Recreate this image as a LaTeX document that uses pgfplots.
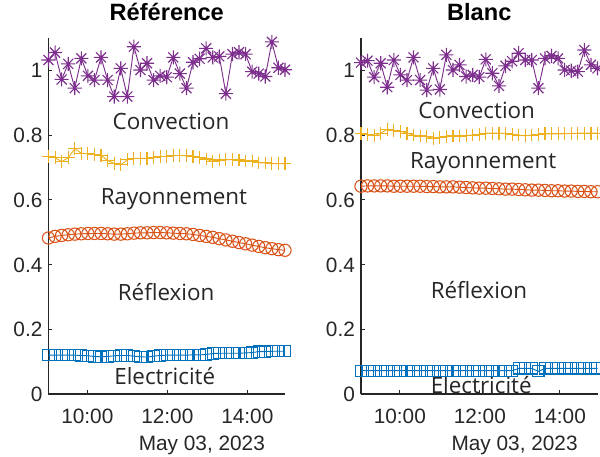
\documentclass[border=0pt]{standalone}
\usepackage{pgfplots}
\usepackage{pgfplotstable}
\pgfplotsset{compat=1.18}
\usepackage{fontspec}
\setmainfont{Liberation Sans}
\newfontfamily\annfont{Open Sans}

\definecolor{mblue}{rgb}{0,0.447,0.741}
\definecolor{morange}{rgb}{0.850,0.325,0.098}
\definecolor{myellow}{rgb}{0.929,0.694,0.125}
\definecolor{mpurple}{rgb}{0.494,0.184,0.556}
\definecolor{mgray}{rgb}{0.15,0.15,0.15}

\pgfdeclareplotmark{ast8}{%
 \pgfpathmoveto{\pgfqpoint{-\pgfplotmarksize}{0pt}}\pgfpathlineto{\pgfqpoint{\pgfplotmarksize}{0pt}}%
 \pgfpathmoveto{\pgfqpoint{0pt}{-\pgfplotmarksize}}\pgfpathlineto{\pgfqpoint{0pt}{\pgfplotmarksize}}%
 \pgfpathmoveto{\pgfqpoint{-.7071\pgfplotmarksize}{-.7071\pgfplotmarksize}}\pgfpathlineto{\pgfqpoint{.7071\pgfplotmarksize}{.7071\pgfplotmarksize}}%
 \pgfpathmoveto{\pgfqpoint{-.7071\pgfplotmarksize}{.7071\pgfplotmarksize}}\pgfpathlineto{\pgfqpoint{.7071\pgfplotmarksize}{-.7071\pgfplotmarksize}}%
 \pgfusepathqstroke}

% idx conv ray ref ele
\pgfplotstableread{
idx conv ray ref ele
0 1.032 0.735 0.482 0.120
1 1.055 0.730 0.487 0.120
2 0.972 0.718 0.490 0.120
3 1.020 0.730 0.492 0.120
4 0.945 0.758 0.494 0.120
5 1.037 0.744 0.495 0.119
6 0.983 0.742 0.496 0.118
7 0.970 0.740 0.496 0.116
8 1.040 0.737 0.496 0.115
9 0.970 0.722 0.495 0.116
10 0.919 0.712 0.494 0.118
11 1.006 0.708 0.494 0.119
12 0.919 0.724 0.495 0.119
13 1.073 0.728 0.497 0.117
14 1.001 0.728 0.498 0.115
15 1.022 0.728 0.498 0.114
16 0.970 0.730 0.499 0.117
17 0.983 0.733 0.499 0.119
18 0.979 0.735 0.498 0.120
19 1.040 0.737 0.497 0.120
20 0.990 0.737 0.496 0.120
21 0.945 0.736 0.495 0.120
22 1.025 0.734 0.493 0.121
23 1.036 0.731 0.490 0.121
24 1.068 0.726 0.487 0.122
25 1.040 0.718 0.484 0.125
26 1.043 0.723 0.480 0.126
27 0.928 0.724 0.476 0.126
28 1.050 0.724 0.472 0.126
29 1.056 0.723 0.468 0.126
30 1.050 0.720 0.464 0.127
31 0.996 0.720 0.460 0.128
32 0.990 0.714 0.456 0.131
33 0.981 0.714 0.452 0.131
34 1.088 0.712 0.449 0.132
35 1.008 0.712 0.446 0.132
36 1.002 0.712 0.444 0.132
}\leftdata

\pgfplotstableread{
idx conv ray ref ele
0 1.024 0.806 0.642 0.072
1 1.030 0.802 0.643 0.072
2 0.979 0.798 0.643 0.072
3 1.022 0.806 0.643 0.072
4 0.948 0.818 0.643 0.072
5 1.032 0.815 0.642 0.072
6 0.986 0.812 0.642 0.072
7 0.970 0.806 0.642 0.072
8 1.040 0.800 0.642 0.072
9 0.970 0.797 0.642 0.072
10 0.939 0.795 0.641 0.072
11 1.006 0.790 0.641 0.072
12 0.941 0.793 0.640 0.072
13 1.048 0.795 0.640 0.072
14 1.001 0.797 0.640 0.072
15 1.017 0.797 0.639 0.072
16 0.981 0.799 0.638 0.072
17 0.986 0.800 0.637 0.072
18 0.979 0.803 0.636 0.072
19 1.034 0.806 0.636 0.072
20 0.991 0.806 0.635 0.072
21 0.952 0.806 0.634 0.072
22 1.014 0.805 0.633 0.072
23 1.028 0.803 0.633 0.072
24 1.053 0.800 0.632 0.079
25 1.032 0.798 0.631 0.079
26 1.032 0.800 0.630 0.079
27 0.945 0.802 0.630 0.070
28 1.037 0.804 0.629 0.079
29 1.045 0.804 0.628 0.079
30 1.037 0.804 0.628 0.079
31 1.001 0.804 0.627 0.079
32 0.999 0.805 0.627 0.079
33 0.996 0.806 0.626 0.079
34 1.063 0.806 0.626 0.079
35 1.017 0.806 0.625 0.079
36 1.006 0.806 0.625 0.079
}\rightdata

\pgfplotsset{
 mstyle/.style={
   scale only axis, width=177.375pt, height=267pt,
   xmin=0, xmax=36, ymin=0, ymax=1.1,
   axis lines=left, axis line style={-, draw=mgray, line width=0.8pt},
   tick align=inside, major tick length=3pt, tick style={draw=mgray, line width=0.8pt},
   xtick={5.91,18.09,30.27}, xticklabels={10:00,12:00,14:00},
   ytick={0,0.2,0.4,0.6,0.8,1}, yticklabels={0,0.2,0.4,0.6,0.8,1},
   ticklabel style={font=\fontsize{15.6}{18}\selectfont, text=mgray, inner sep=0pt, text height=11.2pt, text depth=0pt},
   xticklabel style={anchor=north, yshift=-10.5pt},
   yticklabel style={anchor=east, xshift=-4.4pt},
   title style={font=\bfseries\fontsize{17.7}{20}\selectfont, text=black, anchor=base, at={(0.5,1)}, yshift=7.3pt, inner sep=0pt},
   clip=false,
 },
 sconv/.style={mpurple, line width=0.7pt, mark=ast8, mark size=5.3pt, mark options={solid, line width=0.85pt}},
 sray/.style={myellow, line width=0.7pt, mark=+, mark size=4.8pt, mark options={line width=0.85pt}},
 sref/.style={morange, line width=0.7pt, mark=o, mark size=4.6pt, mark options={line width=0.8pt}},
 sele/.style={mblue, line width=0.7pt, mark=square, mark size=4.2pt, mark options={line width=0.8pt}},
}
\tikzset{
 ann/.style={font=\annfont\fontsize{16.8}{20}\selectfont, text=mgray, anchor=base, inner sep=0pt},
 datelbl/.style={font=\fontsize{15.6}{18}\selectfont, text=mgray, anchor=base east, inner sep=0pt, yshift=-42.4pt},
}

\begin{document}
\begin{tikzpicture}
\useasboundingbox (0,0) rectangle (450pt,342.75pt);
\clip (0,0) rectangle (450pt,342.75pt);
\begin{axis}[mstyle, at={(36.375pt,47.25pt)}, anchor=south west, title={Référence}]
\addplot[sconv] table[x=idx,y=conv] {\leftdata};
\addplot[sray] table[x=idx,y=ray] {\leftdata};
\addplot[sref] table[x=idx,y=ref] {\leftdata};
\addplot[sele] table[x=idx,y=ele] {\leftdata};
\node[ann] at (axis cs:18.65,0.818) {Convection};
\node[ann] at (axis cs:19.1,0.587) {Rayonnement};
\node[ann] at (axis cs:17.9,0.290) {Réflexion};
\node[ann] at (axis cs:17.7,0.028) {Electricité};
\node[datelbl] at (rel axis cs:0.916,0) {May 03, 2023};
\end{axis}
\begin{axis}[mstyle, at={(270.75pt,47.25pt)}, anchor=south west, title={Blanc}]
\addplot[sconv] table[x=idx,y=conv] {\rightdata};
\addplot[sray] table[x=idx,y=ray] {\rightdata};
\addplot[sref] table[x=idx,y=ref] {\rightdata};
\addplot[sele] table[x=idx,y=ele] {\rightdata};
\node[ann] at (axis cs:17.6,0.852) {Convection};
\node[ann] at (axis cs:18.6,0.698) {Rayonnement};
\node[ann] at (axis cs:17.96,0.296) {Réflexion};
\node[ann] at (axis cs:18.3,0.002) {Electricité};
\node[datelbl] at (rel axis cs:0.917,0) {May 03, 2023};
\end{axis}
\end{tikzpicture}
\end{document}
